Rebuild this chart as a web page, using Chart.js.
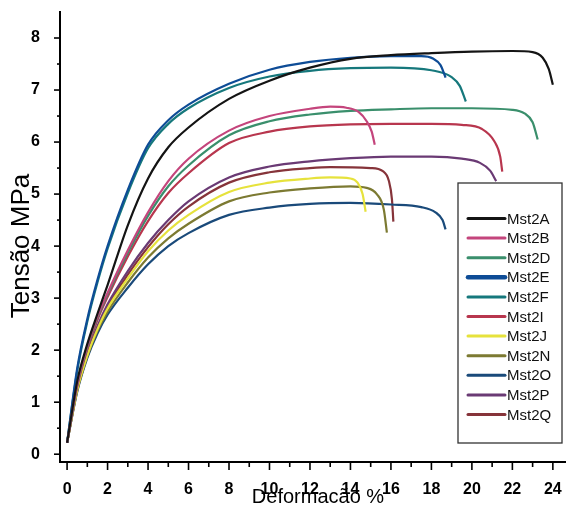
<!DOCTYPE html>
<html lang="pt">
<head>
    <meta charset="UTF-8">
    <title>Tensão x Deformação</title>
    <script src="https://cdn.jsdelivr.net/npm/chart.js"></script>
    <style>
        html, body { margin: 0; padding: 0; background: #fff; }
        #wrap { width: 570px; height: 513px; }
    </style>
</head>
<body>
<div id="wrap"><canvas id="stressChart" width="570" height="513"></canvas></div>
<script>
    // curves: strain (%) and stress (MPa)
    const labels = ["Mst2A", "Mst2B", "Mst2D", "Mst2E", "Mst2F", "Mst2I", "Mst2J", "Mst2N", "Mst2O", "Mst2P", "Mst2Q"];

    const mst2A_x = [0, 0.5, 1, 1.5, 2, 3, 4, 5, 6, 8, 10, 12, 14, 16, 18, 20, 22, 23, 23.5, 23.8, 24.0];
    const mst2A_y = [0.22, 1.4, 2.12, 2.7, 3.25, 4.4, 5.3, 5.9, 6.28, 6.83, 7.18, 7.43, 7.6, 7.67, 7.71, 7.74, 7.75, 7.73, 7.62, 7.4, 7.1];

    const mst2B_x = [0, 0.5, 1, 1.5, 2, 3, 4, 5, 6, 8, 10, 12, 13, 13.8, 14.4, 14.8, 15.05, 15.2];
    const mst2B_y = [0.22, 1.35, 2.08, 2.65, 3.1, 3.92, 4.65, 5.25, 5.68, 6.22, 6.5, 6.64, 6.68, 6.66, 6.58, 6.4, 6.2, 5.95];

    const mst2D_x = [0, 0.5, 1, 1.5, 2, 3, 4, 5, 6, 8, 10, 12, 14, 16, 18, 20, 22, 22.6, 23.0, 23.25];
    const mst2D_y = [0.22, 1.33, 2.05, 2.62, 3.07, 3.87, 4.58, 5.15, 5.55, 6.13, 6.4, 6.53, 6.6, 6.63, 6.65, 6.65, 6.62, 6.55, 6.38, 6.05];

    const mst2E_x = [0, 0.5, 1, 1.5, 2, 3, 4, 5, 6, 8, 10, 12, 14, 16, 17.5, 18.1, 18.45, 18.7];
    const mst2E_y = [0.22, 1.65, 2.6, 3.35, 4.0, 5.08, 5.95, 6.42, 6.72, 7.12, 7.39, 7.54, 7.62, 7.65, 7.65, 7.6, 7.48, 7.24];

    const mst2F_x = [0, 0.5, 1, 1.5, 2, 3, 4, 5, 6, 8, 10, 12, 14, 16, 18, 19, 19.4, 19.7];
    const mst2F_y = [0.22, 1.6, 2.55, 3.3, 3.95, 5.02, 5.88, 6.35, 6.65, 7.04, 7.26, 7.37, 7.42, 7.43, 7.38, 7.25, 7.08, 6.78];

    const mst2I_x = [0, 0.5, 1, 1.5, 2, 3, 4, 5, 6, 8, 10, 12, 14, 16, 18, 19.5, 20.5, 21.1, 21.4, 21.5];
    const mst2I_y = [0.22, 1.3, 2.02, 2.58, 3.02, 3.8, 4.48, 5.02, 5.4, 5.98, 6.2, 6.3, 6.34, 6.35, 6.35, 6.33, 6.25, 6.02, 5.72, 5.43];

    const mst2J_x = [0, 0.5, 1, 1.5, 2, 3, 4, 5, 6, 8, 10, 12, 13, 14, 14.35, 14.6, 14.75];
    const mst2J_y = [0.22, 1.24, 1.9, 2.4, 2.8, 3.38, 3.9, 4.3, 4.6, 5.04, 5.22, 5.3, 5.32, 5.3, 5.22, 5.0, 4.66];

    const mst2N_x = [0, 0.5, 1, 1.5, 2, 3, 4, 5, 6, 8, 10, 12, 14, 14.8, 15.3, 15.65, 15.8];
    const mst2N_y = [0.22, 1.22, 1.88, 2.37, 2.74, 3.3, 3.78, 4.15, 4.43, 4.86, 5.03, 5.11, 5.15, 5.12, 5.0, 4.7, 4.26];

    const mst2O_x = [0, 0.5, 1, 1.5, 2, 3, 4, 5, 6, 8, 10, 12, 14, 16, 17.5, 18.2, 18.55, 18.7];
    const mst2O_y = [0.22, 1.2, 1.85, 2.32, 2.68, 3.2, 3.65, 4.0, 4.25, 4.6, 4.74, 4.81, 4.83, 4.8, 4.75, 4.65, 4.5, 4.32];

    const mst2P_x = [0, 0.5, 1, 1.5, 2, 3, 4, 5, 6, 8, 10, 12, 14, 16, 18, 19.5, 20.4, 20.9, 21.2];
    const mst2P_y = [0.22, 1.26, 1.94, 2.46, 2.88, 3.52, 4.06, 4.5, 4.86, 5.32, 5.53, 5.63, 5.69, 5.72, 5.72, 5.68, 5.6, 5.45, 5.25];

    const mst2Q_x = [0, 0.5, 1, 1.5, 2, 3, 4, 5, 6, 8, 10, 12, 13, 15, 15.6, 15.9, 16.05, 16.12];
    const mst2Q_y = [0.22, 1.25, 1.92, 2.43, 2.84, 3.45, 3.98, 4.42, 4.76, 5.22, 5.42, 5.5, 5.52, 5.5, 5.44, 5.25, 4.9, 4.47];

    const xTickLabels = [0, 2, 4, 6, 8, 10, 12, 14, 16, 18, 20, 22, 24];
    const yTickLabels = [0, 1, 2, 3, 4, 5, 6, 7, 8];
    const xTitle = "Deformacão %";
    const yTitle = "Tensão MPa";

    const curves = [
        [mst2A_x, mst2A_y], [mst2B_x, mst2B_y], [mst2D_x, mst2D_y], [mst2E_x, mst2E_y],
        [mst2F_x, mst2F_y], [mst2I_x, mst2I_y], [mst2J_x, mst2J_y], [mst2N_x, mst2N_y],
        [mst2O_x, mst2O_y], [mst2P_x, mst2P_y], [mst2Q_x, mst2Q_y]
    ];

    const lineColors = ["#141414", "#c4457c", "#3a8f6c", "#0e4c96", "#16787c", "#b8364e",
                        "#e6e23c", "#7c7a32", "#1a4a7a", "#6a3a74", "#86343a"];

    const fontFamily = "'Liberation Sans', Arial, sans-serif";

    const datasets = labels.map((name, i) => ({
        label: name,
        data: curves[i][0].map((x, k) => ({ x: x, y: curves[i][1][k] })),
        borderColor: lineColors[i],
        backgroundColor: lineColors[i],
        borderWidth: 2.2,
        pointRadius: 0,
        fill: false,
        cubicInterpolationMode: "monotone"
    }));

    // small outward tick marks, long at labelled values, short in between
    const tickMarks = {
        id: "tickMarks",
        afterDatasetsDraw(chart) {
            const c = chart.ctx, xs = chart.scales.x, ys = chart.scales.y;
            const area = chart.chartArea;
            c.save();
            c.strokeStyle = "#000";
            c.lineWidth = 1.6;
            for (let v = 0; v <= 24; v++) {
                const px = xs.getPixelForValue(v);
                const len = xTickLabels.includes(v) ? 8 : 5;
                c.beginPath();
                c.moveTo(px, area.bottom);
                c.lineTo(px, area.bottom + len);
                c.stroke();
            }
            for (let v = 0; v <= 8; v += 0.5) {
                const py = ys.getPixelForValue(v);
                const len = yTickLabels.includes(v) ? 6 : 3;
                c.beginPath();
                c.moveTo(area.left, py);
                c.lineTo(area.left - len, py);
                c.stroke();
            }

            // axis titles, placed like the original
            c.fillStyle = "#000";
            c.textAlign = "center";
            c.textBaseline = "middle";
            c.font = "20px " + fontFamily;
            c.fillText(xTitle, 318, 497);
            c.translate(21.5, 246);
            c.rotate(-Math.PI / 2);
            c.font = "26px " + fontFamily;
            c.fillText(yTitle, 0, 0);
            c.restore();
        }
    };

    // boxed legend inside the plot, lower right
    const boxLegend = {
        id: "boxLegend",
        afterDraw(chart) {
            const c = chart.ctx;
            c.save();
            c.fillStyle = "#fff";
            c.fillRect(458, 183, 104, 260);
            c.strokeStyle = "#333";
            c.lineWidth = 1.3;
            c.strokeRect(458, 183, 104, 260);
            c.font = "15px " + fontFamily;
            c.textBaseline = "middle";
            c.fillStyle = "#111";
            chart.data.datasets.forEach((ds, i) => {
                const y = 218.5 + i * 19.6;
                c.strokeStyle = ds.borderColor;
                c.lineWidth = ds.label === "Mst2E" ? 4.5 : 3;
                c.lineCap = "round";
                c.beginPath();
                c.moveTo(468, y);
                c.lineTo(505, y);
                c.stroke();
                c.fillText(ds.label, 507, y + 1);
            });
            c.restore();
        }
    };

    const ctx = document.getElementById("stressChart").getContext("2d");
    new Chart(ctx, {
        type: "line",
        data: { datasets: datasets },
        options: {
            responsive: false,
            animation: false,
            layout: { padding: { left: 4, right: 5, top: 12, bottom: 0 } },
            plugins: { legend: { display: false }, tooltip: { enabled: false } },
            scales: {
                x: {
                    type: "linear",
                    min: -0.35,
                    max: 24.6,
                    grid: { display: false },
                    border: { display: true, color: "#000", width: 2 },
                    ticks: {
                        stepSize: 1,
                        includeBounds: false,
                        autoSkip: false,
                        maxRotation: 0,
                        padding: 10,
                        color: "#000",
                        font: { family: fontFamily, size: 16, weight: "bold" },
                        callback: (v) => xTickLabels.includes(v) ? String(v) : ""
                    },
                    title: { display: false },
                    afterFit: (s) => { s.height = 51; s.paddingLeft = 0; s.paddingRight = 0; }
                },
                y: {
                    min: -0.15,
                    max: 8.5,
                    grid: { display: false },
                    border: { display: true, color: "#000", width: 2 },
                    ticks: {
                        stepSize: 1,
                        includeBounds: false,
                        padding: 12,
                        color: "#000",
                        font: { family: fontFamily, size: 16, weight: "bold" },
                        callback: (v) => yTickLabels.includes(v) ? String(v) : ""
                    },
                    title: { display: false },
                    afterFit: (s) => { s.width = 56; s.paddingTop = 0; s.paddingBottom = 0; }
                }
            }
        },
        plugins: [tickMarks, boxLegend]
    });
</script>
</body>
</html>
